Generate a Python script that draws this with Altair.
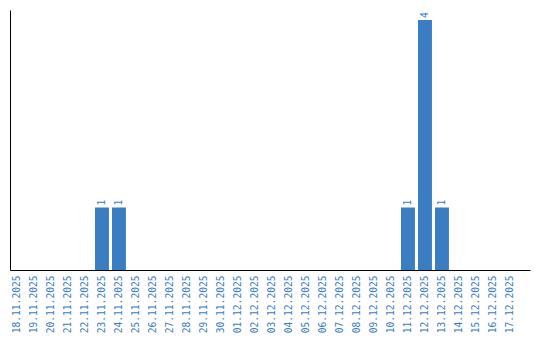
import altair as alt
import pandas as pd

dates = ["18.11.2025", "19.11.2025", "20.11.2025", "21.11.2025", "22.11.2025",
         "23.11.2025", "24.11.2025", "25.11.2025", "26.11.2025", "27.11.2025",
         "28.11.2025", "29.11.2025", "30.11.2025", "01.12.2025", "02.12.2025",
         "03.12.2025", "04.12.2025", "05.12.2025", "06.12.2025", "07.12.2025",
         "08.12.2025", "09.12.2025", "10.12.2025", "11.12.2025", "12.12.2025",
         "13.12.2025", "14.12.2025", "15.12.2025", "16.12.2025", "17.12.2025"]
counts = [0, 0, 0, 0, 0, 1, 1, 0, 0, 0, 0, 0, 0, 0, 0,
          0, 0, 0, 0, 0, 0, 0, 0, 1, 4, 1, 0, 0, 0, 0]

df = pd.DataFrame({"date": dates, "count": counts})
blue = "#3b7dc2"

xscale = alt.Scale(domain=dates, paddingInner=0.18, paddingOuter=0.384, align=0)
yscale = alt.Scale(domain=[0, 4.16], nice=False, zero=True)

base = alt.Chart(df)

bars = base.mark_bar(color=blue).encode(
    x=alt.X("date:N", scale=xscale, sort=dates,
            axis=alt.Axis(title=None, labelAngle=270, ticks=False, domainColor="black",
                          domainWidth=1, labelColor=blue, labelFont="DejaVu Sans Mono",
                          labelFontSize=9.6, labelPadding=5, grid=False)),
    y=alt.Y("count:Q", scale=yscale,
            axis=alt.Axis(title=None, labels=False, ticks=False, grid=False,
                          domainColor="black", domainWidth=1)),
)

texts = base.transform_filter(alt.datum["count"] > 0).mark_text(
    angle=270, align="left", baseline="middle", dx=2, color=blue,
    font="DejaVu Sans Mono", fontSize=9.6,
).encode(
    x=alt.X("date:N", scale=xscale, sort=dates),
    y=alt.Y("count:Q", scale=yscale),
    text=alt.Text("count:Q"),
)

chart = (bars + texts).properties(
    width=520, height=260,
    autosize=alt.AutoSizeParams(type="none"),
    padding={"left": 10, "top": 10, "right": 10, "bottom": 70},
    background="white",
).configure_view(stroke=None, strokeWidth=0)

chart.save("out.html", embed_options={"renderer": "svg", "actions": False})
